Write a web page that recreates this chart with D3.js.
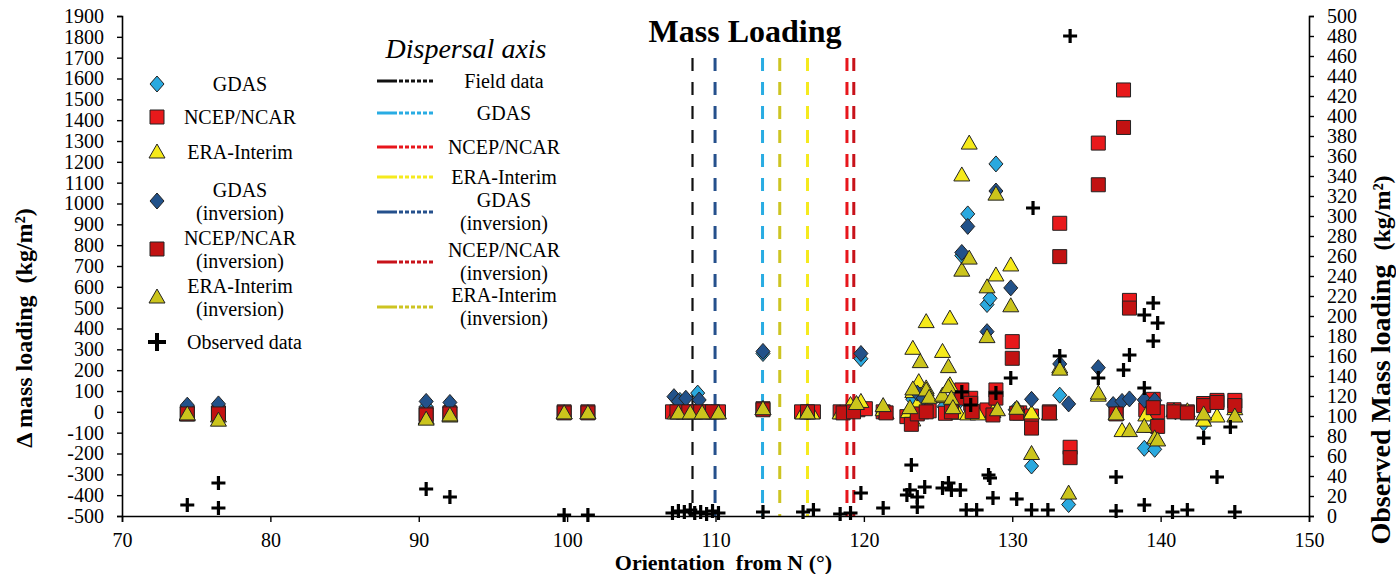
<!DOCTYPE html>
<html>
<head>
<meta charset="utf-8">
<script src="https://cdn.jsdelivr.net/npm/d3@7"></script>
<style>
body { margin: 0; background: #fff; }
text { font-family: "Liberation Serif", "Times New Roman", serif; fill: #000; }
</style>
</head>
<body>
<div id="chart_area"></div>
<script>
// orientation (deg from N), delta mass loading (kg/m2)
var gdas = [[74.4,20],[76.5,25],[90.5,25],[92.1,22],[107.6,55],[108.8,90],[113.2,280],[116.2,0],[119.8,255],
  [123.3,60],[124.2,70],[125.4,25],[126.3,40],[126.6,750],[127.0,950],[128.3,515],[128.5,545],[128.9,1190],
  [130.2,10],[131.3,-260],[133.2,80],[133.8,-445],[137.0,20],[138.9,-175],[139.6,-180],[141.0,0],[142.9,-55],[145.0,20]];
var ncep = [[74.4,-5],[76.5,-5],[90.5,-10],[92.1,-5],[99.8,0],[101.4,0],[107.1,0],[107.8,0],[108.5,0],[109.3,0],
  [110.2,0],[113.2,15],[115.8,0],[116.6,0],[118.4,0],[119.6,10],[120.1,15],[121.3,0],[122.9,-23],[123.9,0],
  [124.4,5],[125.5,-7],[126.6,105],[127.2,65],[127.6,0],[128.3,9],[128.9,105],[130.0,337],[130.5,-5],[131.3,-20],
  [132.5,0],[133.2,905],[133.9,-170],[135.8,1290],[137.0,0],[137.5,1545],[137.9,535],[139.0,10],[139.5,60],
  [139.8,0],[140.9,10],[141.8,0],[142.9,40],[143.8,55],[145.0,55]];
var era = [[74.4,-15],[76.5,-20],[90.5,-30],[92.1,-20],[99.8,-5],[101.4,-5],[107.3,-5],[107.9,-5],[108.6,-5],
  [109.4,-5],[110.0,-5],[113.2,15],[115.9,-5],[116.5,-5],[118.4,-5],[119.1,35],[119.8,50],[121.3,10],[121.5,-5],
  [123.3,305],[123.7,145],[123.3,97],[123.7,49],[123.0,1],[123.3,-39],[124.2,433],[124.2,115],[125.3,290],
  [125.8,450],[125.8,130],[125.3,73],[126.4,-7],[126.6,1137],[127.1,1290],[127.0,-10],[127.7,-10],[128.7,1],
  [128.9,657],[129.9,705],[130.4,10],[131.3,-5],[132.5,-10],[133.2,215],[135.8,80],[137.0,-10],[137.4,-90],
  [139.0,-15],[139.5,-70],[140.9,5],[141.8,5],[142.9,-40],[143.8,-20],[145.0,15]];
var gdasInv = [[74.4,32],[76.5,38],[90.5,50],[92.1,45],[107.2,73],[107.5,50],[108.0,65],[108.9,57],[113.2,290],
  [119.8,280],[123.6,90],[124.0,66],[126.6,765],[127.0,890],[128.3,385],[128.9,1060],[129.9,595],[131.3,60],
  [133.2,230],[133.8,38],[135.8,212],[136.8,35],[137.4,50],[137.9,62],[138.9,57],[139.6,55]];
var ncepInv = [[74.4,-10],[76.5,-10],[90.5,-15],[92.1,-10],[99.8,-5],[101.4,-5],[107.4,0],[108.2,0],[109.0,0],
  [109.8,0],[113.2,10],[116.2,0],[118.6,-5],[119.3,0],[121.5,-5],[123.2,-60],[123.6,-10],[124.2,0],[125.9,0],
  [126.6,66],[127.2,41],[127.3,1],[128.7,-15],[128.9,66],[130.0,257],[130.3,-7],[131.3,-78],[132.5,-5],[133.2,745],
  [133.9,-220],[135.8,1090],[137.0,-10],[137.5,1365],[137.9,498],[139.5,20],[139.8,-70],[140.9,0],[141.8,-5],
  [142.9,30],[143.8,45],[145.0,30]];
var eraInv = [[74.4,-10],[76.5,-40],[90.5,-35],[92.1,-15],[99.8,-5],[101.4,-5],[107.5,-5],[108.3,-5],[109.1,-5],
  [110.2,-5],[113.2,15],[116.2,-5],[119.5,40],[121.3,30],[123.1,20],[123.8,241],[123.3,110],[124.2,105],[124.4,70],
  [125.3,80],[125.7,217],[125.7,121],[125.9,65],[126.0,20],[126.6,680],[127.1,738],[128.3,600],[128.3,361],
  [128.9,1045],[129.9,509],[129.0,10],[130.3,17],[131.3,-200],[133.2,205],[133.8,-390],[135.8,90],[137.0,-10],
  [137.9,-90],[138.9,-70],[139.6,-125],[139.8,-135],[142.9,-10],[145.0,-20]];
// observed mass loading (kg/m2), right axis
var observed = [[74.4,11],[76.5,33],[76.5,8],[90.5,27],[92.1,19],[99.8,1],[101.4,1],[107.1,3],[107.5,5],[107.9,4],
  [108.3,6],[108.6,3],[109.0,4],[109.4,2],[109.8,5],[110.2,3],[113.2,4],[115.9,4],[116.6,6],[118.4,2],[119.1,3],
  [119.8,23],[121.3,8],[122.9,21],[123.1,26],[123.2,51],[123.6,19],[123.6,9],[124.1,29],[125.3,28],[125.7,33],
  [125.9,26],[126.6,124],[126.5,26],[126.9,6],[127.2,111],[127.6,6],[128.4,41],[128.5,38],[128.7,18],[128.9,123],
  [129.9,138],[130.3,17],[131.3,6],[131.4,308],[132.4,6],[133.2,160],[133.9,480],[135.8,138],[137.0,39],[137.0,5],
  [137.5,146],[137.9,161],[138.9,201],[138.9,11],[138.9,128],[139.5,213],[139.8,193],[139.5,175],[140.8,4],
  [141.8,6],[142.9,78],[143.8,39],[144.7,89],[145.0,4]];

// dispersal axis orientations
var axisNames = ["Field data", "GDAS", "NCEP/NCAR", "ERA-Interim", "GDAS|(inversion)", "NCEP/NCAR|(inversion)", "ERA-Interim|(inversion)"];
var axisValues = [108.45, 113.17, 118.86, 116.2, 109.97, 119.32, 114.33];
var axisColors = ["#111", "#29ace3", "#e8161c", "#f5ea1e", "#25508c", "#c8121a", "#cdc422"];

var xTicks = d3.range(70, 151, 10);
var yTicks = d3.range(-500, 1901, 100);
var yRTicks = d3.range(0, 501, 20);

var series = [
  { name: "GDAS", data: gdas, shape: "diamond", fill: "#2aa9df" },
  { name: "NCEP/NCAR", data: ncep, shape: "square", fill: "#e8191b" },
  { name: "ERA-Interim", data: era, shape: "triangle", fill: "#f6ea1a" },
  { name: "GDAS|(inversion)", data: gdasInv, shape: "diamond", fill: "#22528a" },
  { name: "NCEP/NCAR|(inversion)", data: ncepInv, shape: "square", fill: "#c21212" },
  { name: "ERA-Interim|(inversion)", data: eraInv, shape: "triangle", fill: "#cbc41c" }
];

var shapes = {
  diamond: "M0,-8L7,0L0,8L-7,0Z",
  square: "M-7,-7H7V7H-7Z",
  triangle: "M0,-8L8,6H-8Z",
  plus: "M-7,0H7M0,-7V7"
};

var serif = '"Liberation Serif", "Times New Roman", serif';

var svg = d3.select("#chart_area").append("svg")
  .attr("width", 1396)
  .attr("height", 574);

var x = d3.scaleLinear().domain([70, 150]).range([122, 1309]);
var y = d3.scaleLinear().domain([-500, 1900]).range([516, 16]);
var yR = d3.scaleLinear().domain([0, 500]).range([516, 16]);

// dispersal axis lines
svg.append("g").selectAll("line")
  .data(axisValues)
  .enter().append("line")
  .attr("x1", function (d) { return x(d); })
  .attr("x2", function (d) { return x(d); })
  .attr("y1", 58)
  .attr("y2", y(-500))
  .attr("stroke", function (d, i) { return axisColors[i]; })
  .attr("stroke-width", function (d, i) { return i == 0 ? 2.2 : 3; })
  .attr("stroke-dasharray", "13,11");

// axes
var xAxis = svg.append("g")
  .attr("transform", "translate(0," + y(-500) + ")")
  .call(d3.axisBottom(x).tickValues(xTicks).tickSize(6).tickPadding(11));
var yAxis = svg.append("g")
  .attr("transform", "translate(" + x(70) + ",0)")
  .call(d3.axisLeft(y).tickValues(yTicks).tickSize(5).tickPadding(13).tickFormat(function (d) { return String(d); }));
var yRAxis = svg.append("g")
  .attr("transform", "translate(" + x(150) + ",0)")
  .call(d3.axisRight(yR).tickValues(yRTicks).tickSize(5).tickPadding(13));

[xAxis, yAxis, yRAxis].forEach(function (a) {
  a.attr("font-family", serif).attr("font-size", 20);
  a.select(".domain").attr("stroke", "#000").attr("stroke-width", 1.6);
  a.selectAll(".tick line").attr("stroke", "#000").attr("stroke-width", 1.4);
  a.selectAll(".tick text")
    .attr("font-family", serif)
    .style("font-family", serif)
    .style("font-size", "20px")
    .attr("fill", "#000");
});

// data points
series.forEach(function (s) {
  svg.append("g").selectAll("path")
    .data(s.data)
    .enter().append("path")
    .attr("d", shapes[s.shape])
    .attr("transform", function (d) { return "translate(" + x(d[0]) + "," + y(d[1]) + ")"; })
    .attr("fill", s.fill)
    .attr("stroke", "#222")
    .attr("stroke-width", 1);
});

svg.append("g").selectAll("path")
  .data(observed)
  .enter().append("path")
  .attr("d", shapes.plus)
  .attr("transform", function (d) { return "translate(" + x(d[0]) + "," + yR(d[1]) + ")"; })
  .attr("fill", "none")
  .attr("stroke", "#000")
  .attr("stroke-width", 3.2);

// titles
svg.append("text")
  .attr("x", 745).attr("y", 42)
  .attr("text-anchor", "middle")
  .style("font-size", "32px").style("font-weight", "bold")
  .text("Mass Loading");

svg.append("text")
  .attr("x", x(110) + 8).attr("y", 570)
  .attr("text-anchor", "middle")
  .style("font-size", "22px").style("font-weight", "bold")
  .attr("xml:space", "preserve")
  .text("Orientation  from N (°)");

svg.append("text")
  .attr("transform", "translate(32,328) rotate(-90)")
  .attr("text-anchor", "middle")
  .style("font-size", "24px").style("font-weight", "bold")
  .attr("xml:space", "preserve")
  .text("Δ mass loading  (kg/m²)");

var rt = svg.append("text")
  .attr("transform", "translate(1390,360) rotate(-90)")
  .attr("text-anchor", "middle")
  .style("font-weight", "bold")
  .attr("xml:space", "preserve");
rt.append("tspan").style("font-size", "28px").text("Observed Mass loading  ");
rt.append("tspan").style("font-size", "24px").text("(kg/m²)");

// marker legend
var legendY = [84, 117, 152, 201, 249, 297];
var legend = svg.append("g");
series.forEach(function (s, i) {
  legend.append("path")
    .attr("d", shapes[s.shape])
    .attr("transform", "translate(157," + legendY[i] + ")")
    .attr("fill", s.fill)
    .attr("stroke", "#222")
    .attr("stroke-width", 1);
  var parts = s.name.split("|");
  parts.forEach(function (p, j) {
    legend.append("text")
      .attr("x", 240)
      .attr("y", legendY[i] + 7 + (j - (parts.length - 1) / 2) * 23)
      .attr("text-anchor", "middle")
      .style("font-size", "20px")
      .text(p);
  });
});
legend.append("path")
  .attr("d", "M-9,0H9M0,-9V9")
  .attr("transform", "translate(157,342)")
  .attr("stroke", "#000")
  .attr("stroke-width", 4);
legend.append("text")
  .attr("x", 187).attr("y", 349)
  .style("font-size", "20px")
  .text("Observed data");

// dispersal axis legend
svg.append("text")
  .attr("x", 466).attr("y", 58)
  .attr("text-anchor", "middle")
  .style("font-size", "28px").style("font-style", "italic")
  .text("Dispersal axis");

var lineY = [81, 113, 147, 177, 212, 262, 307];
axisNames.forEach(function (n, i) {
  legend.append("line")
    .attr("x1", 377).attr("x2", 440)
    .attr("y1", lineY[i]).attr("y2", lineY[i])
    .attr("stroke", axisColors[i])
    .attr("stroke-width", 3)
    .attr("stroke-dasharray", "20,2,4,2,4,2,4,2,4,2,4,2,4");
  var parts = n.split("|");
  parts.forEach(function (p, j) {
    legend.append("text")
      .attr("x", 504)
      .attr("y", lineY[i] + 7 + (j - (parts.length - 1) / 2) * 23 - (parts.length > 1 ? 1 : 0))
      .attr("text-anchor", "middle")
      .style("font-size", "20px")
      .text(p);
  });
});
</script>
</body>
</html>
